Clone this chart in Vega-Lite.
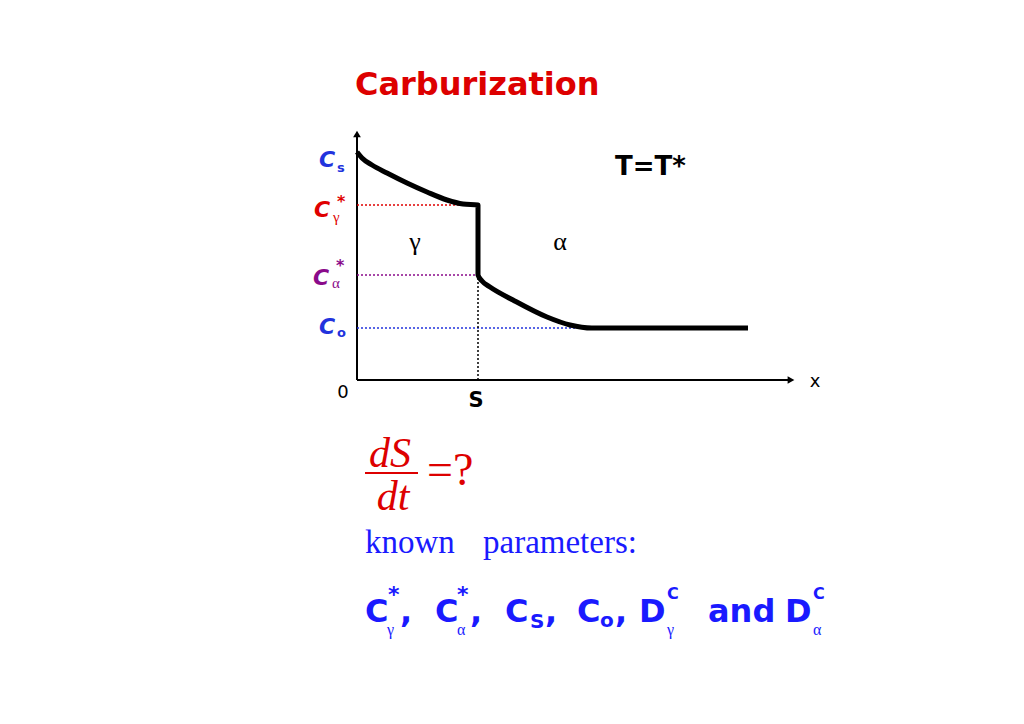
{
  "$schema": "https://vega.github.io/schema/vega-lite/v6.json",
  "autosize": {"type": "fit", "contains": "padding"},
  "width": 1024,
  "height": 724,
  "padding": 0,
  "background": "white",
  "config": {"view": {"stroke": null}},
  "datasets": {
    "axes": [
      {"x": 0, "y": 0, "x2": 0, "y2": 244},
      {"x": 0, "y": 0, "x2": 432, "y2": 0}
    ],
    "arrows": [
      {"x": 0, "y": 246, "dir": "up"},
      {"x": 434, "y": 0, "dir": "right"}
    ],
    "guides": [
      {"x": 0, "y": 175, "x2": 121, "y2": 175, "key": "gamma"},
      {"x": 0, "y": 105, "x2": 121, "y2": 105, "key": "alpha"},
      {"x": 0, "y": 52, "x2": 235, "y2": 52, "key": "initial"},
      {"x": 121, "y": 0, "x2": 121, "y2": 105, "key": "ink"}
    ],
    "curve": [
      {"i": 1, "x": 0, "y": 228},
      {"i": 2, "x": 5, "y": 222},
      {"i": 3, "x": 15, "y": 215},
      {"i": 4, "x": 30, "y": 207},
      {"i": 5, "x": 50, "y": 197},
      {"i": 6, "x": 70, "y": 188},
      {"i": 7, "x": 90, "y": 180},
      {"i": 8, "x": 106, "y": 176},
      {"i": 9, "x": 121, "y": 175},
      {"i": 10, "x": 121, "y": 105},
      {"i": 11, "x": 125, "y": 99},
      {"i": 12, "x": 133, "y": 93},
      {"i": 13, "x": 156, "y": 80},
      {"i": 14, "x": 190, "y": 63},
      {"i": 15, "x": 213, "y": 55},
      {"i": 16, "x": 235, "y": 52},
      {"i": 17, "x": 391, "y": 52}
    ],
    "ylabels": [
      {"x": -38, "y": 213, "text": "C", "key": "surface"},
      {"x": -43, "y": 163, "text": "C", "key": "gamma"},
      {"x": -44, "y": 95, "text": "C", "key": "alpha"},
      {"x": -38, "y": 46, "text": "C", "key": "initial"}
    ],
    "ysubs": [
      {"x": -20, "y": 208, "text": "s", "key": "surface"},
      {"x": -20, "y": 43, "text": "o", "key": "initial"}
    ],
    "ygreek": [
      {"x": -24, "y": 158, "text": "γ", "key": "gamma"},
      {"x": -25, "y": 92, "text": "α", "key": "alpha"}
    ],
    "ystars": [
      {"x": -20, "y": 186, "text": "*", "key": "gamma"},
      {"x": -21, "y": 122, "text": "*", "key": "alpha"}
    ],
    "marks": [
      {"x": -14, "y": -18, "text": "0"},
      {"x": 458, "y": -7, "text": "x"}
    ],
    "sLabel": [{"x": 119, "y": -27, "text": "S"}],
    "phases": [
      {"x": 58, "y": 130, "text": "γ"},
      {"x": 203, "y": 130, "text": "α"}
    ],
    "temp": [{"x": 258, "y": 205, "text": "T=T*"}],
    "title": [{"x": -2, "y": 285, "text": "Carburization"}],
    "frac": [
      {"x": 33, "y": -87, "text": "dS"},
      {"x": 36, "y": -130, "text": "dt"}
    ],
    "fracbar": [{"x": 8, "y": -93, "x2": 61, "y2": -93}],
    "eq": [{"x": 70, "y": -105, "text": "=?"}],
    "known": [
      {"x": 8, "y": -173, "text": "known"},
      {"x": 126, "y": -173, "text": "parameters:"}
    ],
    "params": [
      {"x": 8, "y": -242, "text": "C"},
      {"x": 43, "y": -242, "text": ","},
      {"x": 78, "y": -242, "text": "C"},
      {"x": 113, "y": -242, "text": ","},
      {"x": 148, "y": -242, "text": "C"},
      {"x": 188, "y": -242, "text": ","},
      {"x": 220, "y": -242, "text": "C"},
      {"x": 258, "y": -242, "text": ","},
      {"x": 282, "y": -242, "text": "D"},
      {"x": 351, "y": -242, "text": "and"},
      {"x": 428, "y": -242, "text": "D"}
    ],
    "pstars": [
      {"x": 31, "y": -205, "text": "*"},
      {"x": 100, "y": -205, "text": "*"}
    ],
    "psups": [
      {"x": 310, "y": -206, "text": "C"},
      {"x": 456, "y": -206, "text": "C"}
    ],
    "psubs": [
      {"x": 173, "y": -248, "text": "S"},
      {"x": 243, "y": -247, "text": "o"}
    ],
    "pgreek": [
      {"x": 30, "y": -255, "text": "γ"},
      {"x": 100, "y": -255, "text": "α"},
      {"x": 310, "y": -255, "text": "γ"},
      {"x": 456, "y": -255, "text": "α"}
    ]
  },
  "encoding": {
    "x": {"field": "x", "type": "quantitative", "scale": {"domain": [-357, 667], "nice": false, "zero": false}, "axis": null},
    "y": {"field": "y", "type": "quantitative", "scale": {"domain": [-344, 380], "nice": false, "zero": false}, "axis": null}
  },
  "layer": [
    {
      "data": {"name": "axes"},
      "mark": {"type": "rule", "color": "black", "strokeWidth": 2},
      "encoding": {"x2": {"field": "x2"}, "y2": {"field": "y2"}}
    },
    {
      "data": {"name": "arrows"},
      "mark": {"type": "point", "filled": true, "color": "black", "size": 60, "opacity": 1},
      "encoding": {"shape": {"field": "dir", "type": "nominal", "scale": {"domain": ["up", "right"], "range": ["triangle-up", "triangle-right"]}, "legend": null}}
    },
    {
      "data": {"name": "guides"},
      "mark": {"type": "rule", "strokeWidth": 1.5, "strokeDash": [2, 2]},
      "encoding": {
        "x2": {"field": "x2"}, "y2": {"field": "y2"},
        "color": {"field": "key", "type": "nominal", "scale": {"domain": ["ink", "gamma", "alpha", "surface", "initial"], "range": ["#000000", "#e00000", "#8a0a8a", "#2233dd", "#2233dd"]}, "legend": null}
      }
    },
    {
      "data": {"name": "curve"},
      "mark": {"type": "line", "color": "black", "strokeWidth": 5, "strokeJoin": "round", "interpolate": "monotone"},
      "encoding": {"order": {"field": "i", "type": "quantitative"}}
    },
    {
      "data": {"name": "ylabels"},
      "mark": {"type": "text", "font": "DejaVu Sans", "fontStyle": "italic", "fontWeight": "bold", "fontSize": 22, "align": "left", "baseline": "alphabetic"},
      "encoding": {
        "text": {"field": "text"},
        "color": {"field": "key", "type": "nominal", "scale": {"domain": ["ink", "gamma", "alpha", "surface", "initial"], "range": ["#000000", "#e00000", "#8a0a8a", "#2233dd", "#2233dd"]}, "legend": null}
      }
    },
    {
      "data": {"name": "ysubs"},
      "mark": {"type": "text", "font": "DejaVu Sans", "fontWeight": "bold", "fontSize": 13, "align": "left", "baseline": "alphabetic"},
      "encoding": {
        "text": {"field": "text"},
        "color": {"field": "key", "type": "nominal", "scale": {"domain": ["ink", "gamma", "alpha", "surface", "initial"], "range": ["#000000", "#e00000", "#8a0a8a", "#2233dd", "#2233dd"]}, "legend": null}
      }
    },
    {
      "data": {"name": "ygreek"},
      "mark": {"type": "text", "font": "Liberation Serif", "fontSize": 15, "align": "left", "baseline": "alphabetic"},
      "encoding": {
        "text": {"field": "text"},
        "color": {"field": "key", "type": "nominal", "scale": {"domain": ["ink", "gamma", "alpha", "surface", "initial"], "range": ["#000000", "#e00000", "#8a0a8a", "#2233dd", "#2233dd"]}, "legend": null}
      }
    },
    {
      "data": {"name": "ystars"},
      "mark": {"type": "text", "font": "DejaVu Sans", "fontWeight": "bold", "fontSize": 16, "align": "left", "baseline": "top"},
      "encoding": {
        "text": {"field": "text"},
        "color": {"field": "key", "type": "nominal", "scale": {"domain": ["ink", "gamma", "alpha", "surface", "initial"], "range": ["#000000", "#e00000", "#8a0a8a", "#2233dd", "#2233dd"]}, "legend": null}
      }
    },
    {
      "data": {"name": "marks"},
      "mark": {"type": "text", "font": "DejaVu Sans", "fontSize": 18, "align": "center", "baseline": "alphabetic", "color": "black"},
      "encoding": {"text": {"field": "text"}}
    },
    {
      "data": {"name": "sLabel"},
      "mark": {"type": "text", "font": "DejaVu Sans", "fontWeight": "bold", "fontSize": 21, "align": "center", "baseline": "alphabetic", "color": "black"},
      "encoding": {"text": {"field": "text"}}
    },
    {
      "data": {"name": "phases"},
      "mark": {"type": "text", "font": "Liberation Serif", "fontSize": 26, "align": "center", "baseline": "alphabetic", "color": "black"},
      "encoding": {"text": {"field": "text"}}
    },
    {
      "data": {"name": "temp"},
      "mark": {"type": "text", "font": "DejaVu Sans", "fontWeight": "bold", "fontSize": 26, "align": "left", "baseline": "alphabetic", "color": "black"},
      "encoding": {"text": {"field": "text"}}
    },
    {
      "data": {"name": "title"},
      "mark": {"type": "text", "font": "DejaVu Sans", "fontWeight": "bold", "fontSize": 32, "align": "left", "baseline": "alphabetic", "color": "#dd0000"},
      "encoding": {"text": {"field": "text"}}
    },
    {
      "data": {"name": "frac"},
      "mark": {"type": "text", "font": "Liberation Serif", "fontStyle": "italic", "fontSize": 42, "align": "center", "baseline": "alphabetic", "color": "#dd0000"},
      "encoding": {"text": {"field": "text"}}
    },
    {
      "data": {"name": "fracbar"},
      "mark": {"type": "rule", "color": "#dd0000", "strokeWidth": 2},
      "encoding": {"x2": {"field": "x2"}, "y2": {"field": "y2"}}
    },
    {
      "data": {"name": "eq"},
      "mark": {"type": "text", "font": "Liberation Serif", "fontSize": 46, "align": "left", "baseline": "alphabetic", "color": "#dd0000"},
      "encoding": {"text": {"field": "text"}}
    },
    {
      "data": {"name": "known"},
      "mark": {"type": "text", "font": "Liberation Serif", "fontSize": 33, "align": "left", "baseline": "alphabetic", "color": "#1a1aff"},
      "encoding": {"text": {"field": "text"}}
    },
    {
      "data": {"name": "params"},
      "mark": {"type": "text", "font": "DejaVu Sans", "fontWeight": "bold", "fontSize": 32, "align": "left", "baseline": "alphabetic", "color": "#1a1aff"},
      "encoding": {"text": {"field": "text"}}
    },
    {
      "data": {"name": "pstars"},
      "mark": {"type": "text", "font": "DejaVu Sans", "fontWeight": "bold", "fontSize": 22, "align": "left", "baseline": "top", "color": "#1a1aff"},
      "encoding": {"text": {"field": "text"}}
    },
    {
      "data": {"name": "psups"},
      "mark": {"type": "text", "font": "DejaVu Sans", "fontWeight": "bold", "fontSize": 16, "align": "left", "baseline": "top", "color": "#1a1aff"},
      "encoding": {"text": {"field": "text"}}
    },
    {
      "data": {"name": "psubs"},
      "mark": {"type": "text", "font": "DejaVu Sans", "fontWeight": "bold", "fontSize": 20, "align": "left", "baseline": "alphabetic", "color": "#1a1aff"},
      "encoding": {"text": {"field": "text"}}
    },
    {
      "data": {"name": "pgreek"},
      "mark": {"type": "text", "font": "Liberation Serif", "fontSize": 16, "align": "left", "baseline": "alphabetic", "color": "#1a1aff"},
      "encoding": {"text": {"field": "text"}}
    }
  ]
}
